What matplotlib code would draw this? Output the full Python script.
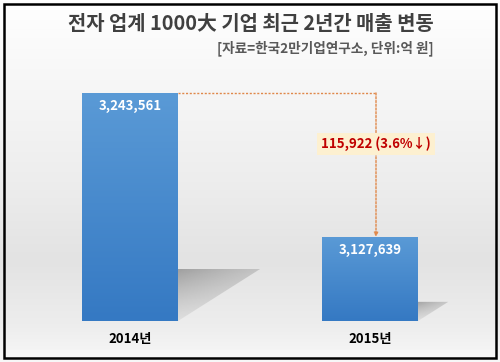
import matplotlib
matplotlib.use("Agg")
import matplotlib.pyplot as plt
import numpy as np
from matplotlib.patches import Rectangle, Polygon
from matplotlib.colors import LinearSegmentedColormap

plt.rcParams['font.family'] = ['Noto Sans CJK KR', 'DejaVu Sans']

categories = ['2014년', '2015년']
values = [3243561, 3127639]
value_labels = ['3,243,561', '3,127,639']
change_label = '115,922 (3.6%↓)'
title = '전자 업계 1000大 기업 최근 2년간 매출 변동'
subtitle = '[자료=한국2만기업연구소, 단위:억 원]'

W, H = 500, 362
fig = plt.figure(figsize=(W/100, H/100), dpi=100)

# background gradient (top white -> gray -> lighter near bottom)
bg = fig.add_axes([0, 0, 1, 1])
bg.set_axis_off()
tb = np.interp(np.linspace(0, 1, 256),
               [0, 0.1, 0.5, 0.72, 0.9, 1.0],
               [1.0, 0.985, 0.93, 0.89, 0.93, 0.97])
col = np.repeat(np.repeat(tb[:, None, None], 3, axis=2), 2, axis=1)
bg.imshow(col, aspect='auto', extent=[0, 1, 0, 1], origin='upper')
bg.set_xlim(0, 1); bg.set_ylim(0, 1)
bg.add_patch(Rectangle((4/W, 4/H), 1-8/W, 1-8/H, fill=False, ec='black', lw=1.8,
                       transform=bg.transAxes))

# main axes
ax_left, ax_right = 10, 490
ax_bot, ax_top = 41, 302
ax = fig.add_axes([ax_left/W, ax_bot/H, (ax_right-ax_left)/W, (ax_top-ax_bot)/H])
ax.set_axis_off()
ax.patch.set_alpha(0)
ymin, ymax = 3060000, 3270100

x = np.arange(len(values))
bw = 0.4
px_x = 2.0 / (ax_right - ax_left)          # data units per px (x)
px_y = (ymax - ymin) / (ax_top - ax_bot)   # data units per px (y)

# shadows (smooth gradient clipped to a triangle-like polygon)
shcmap = LinearSegmentedColormap.from_list('s', [(0.80, 0.80, 0.80, 0.0), (0.45, 0.45, 0.45, 0.6)])
for xi, v in zip(x, values):
    hpx = (v - ymin) / px_y
    right = xi + bw/2
    sh_h = 0.228 * hpx * px_y
    sh_w = 0.36 * hpx * px_x
    poly = Polygon([(right, ymin + sh_h), (right + sh_w, ymin + sh_h), (right, ymin)],
                   closed=True, fc='none', ec='none')
    ax.add_patch(poly)
    gy = np.linspace(0, 1, 64)[:, None]
    gx = np.linspace(0, 1, 64)[None, :]
    g = (0.35 + 0.65*gy) * (1 - 0.35*gx)
    im = ax.imshow(g, cmap=shcmap, vmin=0, vmax=1, aspect='auto', origin='lower',
                   extent=[right, right + sh_w, ymin, ymin + sh_h], zorder=2,
                   interpolation='bilinear')
    im.set_clip_path(poly)

# bars with gradient
cmap = LinearSegmentedColormap.from_list('b', ['#3579C3', '#5A9AD6'])
bars = ax.bar(x, [v - ymin for v in values], bw, bottom=ymin, color='none', ec='none')
for b in bars:
    g = np.linspace(0, 1, 100).reshape(-1, 1)
    im = ax.imshow(g, cmap=cmap, aspect='auto', origin='lower',
                   extent=[b.get_x(), b.get_x()+b.get_width(), ymin, ymin+b.get_height()],
                   zorder=3)
    im.set_clip_path(b)
ax.set_xlim(-0.5, 1.5)
ax.set_ylim(ymin, ymax)

for xi, v, lab in zip(x, values, value_labels):
    ax.text(xi, v - 13*px_y, lab, ha='center', va='center', color='white',
            fontsize=9.5, fontweight='bold', zorder=5)

for xi, c in zip(x, categories):
    ax.text(xi, ymin - 18*px_y, c, ha='center', va='center', color='black',
            fontsize=9.5, fontweight='bold', clip_on=False)

# change connector
xr = x[0] + bw/2
xd = x[1] + 0.025
lc = '#E0884A'
ax.plot([xr, xd], [values[0], values[0]], ls=(0, (1.5, 1.2)), color=lc, lw=1.0, zorder=4)
ax.annotate('', xy=(xd, values[1]), xytext=(xd, values[0]),
            arrowprops=dict(arrowstyle='-|>', color=lc, lw=1.0, ls=(0, (1.5, 1.2)),
                            mutation_scale=6, shrinkA=0, shrinkB=0), zorder=4)
ax.text(xd, values[0] - (values[0]-values[1])*0.355, change_label, ha='center', va='center',
        color='#C00000', fontsize=9.5, fontweight='bold', zorder=6,
        bbox=dict(boxstyle='square,pad=0.3', fc='#FDF0D0', ec='none'))

fig.text(251/W, 1-24/H, title, ha='center', va='center', fontsize=14.3,
         fontweight='bold', color='#404040')
fig.text(434/W, 1-48/H, subtitle, ha='right', va='center', fontsize=9.8,
         fontweight='bold', color='#595959')

fig.savefig('out.png', dpi=100)
